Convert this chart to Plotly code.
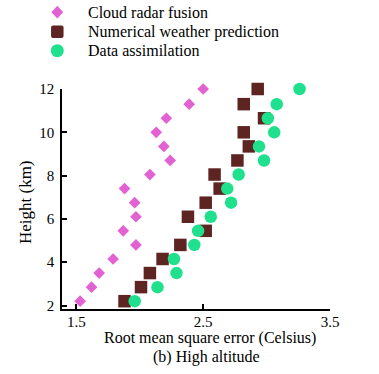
import plotly.graph_objects as go

heights = [2.2, 2.85, 3.5, 4.15, 4.8, 5.45, 6.1, 6.75, 7.4, 8.05, 8.7, 9.35, 10.0, 10.65, 11.3, 12.0]
cloud_radar = [1.53, 1.62, 1.68, 1.79, 1.97, 1.87, 1.97, 1.96, 1.88, 2.08, 2.24, 2.19, 2.13, 2.21, 2.39, 2.50]
nwp = [1.88, 2.01, 2.08, 2.18, 2.32, 2.52, 2.38, 2.52, 2.63, 2.59, 2.77, 2.86, 2.82, 2.98, 2.82, 2.93]
assim = [1.96, 2.14, 2.29, 2.27, 2.43, 2.46, 2.56, 2.72, 2.69, 2.78, 2.98, 2.94, 3.06, 3.01, 3.08, 3.26]

series_names = ["Cloud radar fusion", "Numerical weather prediction", "Data assimilation"]
x_ticks = [1.5, 2.5, 3.5]
y_ticks = [2, 4, 6, 8, 10, 12]

FONT = "Liberation Serif"
PINK, BROWN, GREEN = "#E262D3", "#5E2421", "#1FE08C"

fig = go.Figure()
fig.add_trace(go.Scatter(x=cloud_radar, y=heights, mode="markers", name=series_names[0],
                         marker=dict(symbol="diamond", size=9, color=PINK)))
fig.add_trace(go.Scatter(x=nwp, y=heights, mode="markers", name=series_names[1],
                         marker=dict(symbol="square", size=12.5, color=BROWN)))
fig.add_trace(go.Scatter(x=assim, y=heights, mode="markers", name=series_names[2],
                         marker=dict(symbol="circle", size=12.5, color=GREEN)))
fig.update_traces(cliponaxis=False)

# manual legend (keys as pixel-sized shapes, labels as annotations)
leg_x_key = -0.0175
leg_x_txt = 0.0906
leg_rows = [1.349, 1.260, 1.174]
diamond = "M 0,-6.4 L 5.9,0 L 0,6.4 L -5.9,0 Z"
rsq = ("M -4.25,-6.25 L 4.25,-6.25 Q 6.25,-6.25 6.25,-4.25 L 6.25,4.25 Q 6.25,6.25 4.25,6.25 "
       "L -4.25,6.25 Q -6.25,6.25 -6.25,4.25 L -6.25,-4.25 Q -6.25,-6.25 -4.25,-6.25 Z")
shapes = [
    dict(type="path", path=diamond, xref="paper", yref="paper", xsizemode="pixel", ysizemode="pixel",
         xanchor=leg_x_key, yanchor=leg_rows[0], fillcolor=PINK, line=dict(width=0)),
    dict(type="path", path=rsq, xref="paper", yref="paper", xsizemode="pixel", ysizemode="pixel",
         xanchor=leg_x_key, yanchor=leg_rows[1], fillcolor=BROWN, line=dict(width=0)),
    dict(type="circle", xref="paper", yref="paper", xsizemode="pixel", ysizemode="pixel",
         xanchor=leg_x_key, yanchor=leg_rows[2], x0=-6.5, x1=6.5, y0=-6.5, y1=6.5,
         fillcolor=GREEN, line=dict(width=0)),
]
annotations = [
    dict(text=n, xref="paper", yref="paper", x=leg_x_txt, y=r, xanchor="left", yanchor="middle",
         showarrow=False, font=dict(family=FONT, size=16))
    for n, r in zip(series_names, leg_rows)
]
annotations += [
    dict(text="Root mean square error (Celsius)", xref="paper", yref="paper",
         x=0.553, y=-0.134, xanchor="center", yanchor="middle", showarrow=False,
         font=dict(family=FONT, size=16)),
    dict(text="(b) High altitude", xref="paper", yref="paper",
         x=0.538, y=-0.22, xanchor="center", yanchor="middle", showarrow=False,
         font=dict(family=FONT, size=16)),
    dict(text="Height (km)", xref="paper", yref="paper", textangle=-90,
         x=-0.137, y=0.4875, xanchor="center", yanchor="middle", showarrow=False,
         font=dict(family=FONT, size=17)),
]

fig.update_layout(
    width=379, height=374,
    margin=dict(l=62, r=49, t=89, b=64.5, pad=0, autoexpand=False),
    paper_bgcolor="white", plot_bgcolor="white",
    font=dict(family=FONT, size=15, color="black"),
    showlegend=False,
    shapes=shapes,
    annotations=annotations,
    xaxis=dict(range=[1.387, 3.5], tickvals=x_ticks, ticktext=[str(v) for v in x_ticks],
               showgrid=False, zeroline=False, showline=True, linecolor="black", linewidth=1.5,
               ticks="inside", ticklen=5, tickcolor="black", tickwidth=1.5,
               ticklabelstandoff=-2, tickfont=dict(family=FONT, size=15)),
    yaxis=dict(range=[1.84, 12], tickvals=y_ticks, ticktext=[str(v) for v in y_ticks],
               showgrid=False, zeroline=False, showline=True, linecolor="black", linewidth=1.5,
               ticks="inside", ticklen=5, tickcolor="black", tickwidth=1.5,
               ticklabelstandoff=3, tickfont=dict(family=FONT, size=15)),
)

fig.write_html("out.html", config={"displayModeBar": False},
               post_script="document.body.style.margin='0px';document.body.style.overflow='hidden';")
